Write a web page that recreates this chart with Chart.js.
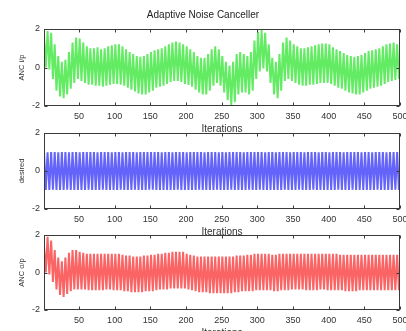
<!DOCTYPE html>
<html>
<head>
<meta charset="utf-8">
<script src="https://cdn.jsdelivr.net/npm/chart.js@4/dist/chart.umd.min.js"></script>
<style>
html,body{margin:0;padding:0;background:#fff;overflow:hidden;width:406px;height:331px;}
canvas{position:absolute;left:0;}
</style>
</head>
<body>
<canvas id="c1" width="406" height="135" style="top:0px"></canvas>
<canvas id="c2" width="406" height="118" style="top:120px"></canvas>
<canvas id="c3" width="406" height="117" style="top:222px"></canvas>
<script>
// ---- data (extrema of each oscillation) ----
const chartTitle = "Adaptive Noise Canceller";
const xTitle = "Iterations";
const xTickValues = [50,100,150,200,250,300,350,400,450,500];
const yTickValues = [-2,0,2];
const yTitles = ["ANC i/p","desired","ANC o/p"];

// sample positions (iteration index) of successive peaks / troughs
const iterations = Array.from({length:200}, (_, k) => 1 + 2.5 * k);

const ancInput = [
 1.7,0.0, 1.9,-0.1, 1.8,-0.6, 1.2,-1.2, 0.6,-1.5, 0.3,-1.6, 0.4,-1.4, 0.8,-1.1, 1.3,-0.8, 1.55,-0.6,
 1.5,-0.7, 1.3,-0.8, 1.1,-0.9, 1.0,-0.9, 1.0,-0.95, 1.05,-0.95, 0.95,-1.0, 1.0,-0.95, 1.1,-0.9, 1.15,-0.85,
 1.2,-0.85, 1.2,-0.9, 1.1,-0.95, 0.95,-1.05, 0.8,-1.15, 0.7,-1.25, 0.6,-1.35, 0.55,-1.4, 0.6,-1.4, 0.7,-1.3,
 0.8,-1.2, 0.9,-1.05, 0.95,-1.0, 1.0,-0.95, 1.1,-0.85, 1.2,-0.75, 1.3,-0.7, 1.35,-0.7, 1.3,-0.75, 1.2,-0.85,
 1.1,-0.9, 0.95,-1.0, 0.8,-1.15, 0.6,-1.3, 0.5,-1.4, 0.5,-1.4, 0.7,-1.2, 0.95,-0.95, 1.1,-0.8, 0.95,-0.95,
 0.6,-1.3, 0.3,-1.7, 0.1,-1.95, 0.3,-1.8, 0.7,-1.4, 0.8,-1.3, 0.7,-1.3, 0.6,-1.4, 0.8,-1.2, 1.4,-0.6,
 1.85,-0.2, 1.95,-0.05, 1.8,-0.2, 1.2,-0.8, 0.5,-1.4, 0.3,-1.6, 0.7,-1.2, 1.3,-0.7, 1.55,-0.6, 1.4,-0.7,
 1.2,-0.8, 1.1,-0.9, 1.0,-0.95, 1.0,-0.95, 1.05,-0.9, 1.1,-0.9, 1.15,-0.85, 1.2,-0.8, 1.25,-0.8, 1.25,-0.8,
 1.2,-0.85, 1.05,-0.95, 0.95,-1.05, 0.85,-1.1, 0.75,-1.2, 0.65,-1.3, 0.6,-1.35, 0.55,-1.4, 0.6,-1.4, 0.65,-1.3,
 0.75,-1.2, 0.85,-1.1, 0.9,-1.05, 0.95,-1.0, 1.0,-0.95, 1.1,-0.85, 1.2,-0.75, 1.25,-0.7, 1.3,-0.65, 1.2,-0.6
];

const desired = [
 1,-1,0.99,-1,1,-0.99,1,-1,0.99,-1,1,-1,1,-0.99,0.99,-1,1,-1,1,-1,
 0.99,-1,1,-1,1,-0.99,1,-1,1,-1,0.99,-1,1,-0.99,1,-1,1,-1,0.99,-1,
 1,-1,1,-0.99,0.99,-1,1,-1,1,-1,1,-0.99,0.99,-1,1,-1,1,-1,1,-0.99,
 1,-0.99,1,-1,1,-1,0.99,-1,1,-1,1,-1,0.99,-1,1,-0.99,1,-1,1,-1,
 0.99,-1,1,-1,1,-1,1,-0.99,1,-1,0.99,-1,1,-1,1,-1,1,-0.99,0.99,-1,
 1,-1,0.99,-1,1,-0.99,1,-1,1,-1,1,-1,0.99,-1,1,-0.99,1,-1,1,-1,
 1,-0.99,1,-1,0.99,-1,1,-1,1,-1,0.99,-1,1,-1,1,-0.99,1,-1,0.99,-1,
 1,-1,1,-0.99,1,-1,0.99,-1,1,-1,1,-0.99,1,-1,0.99,-1,1,-1,1,-1,
 0.99,-1,1,-1,1,-0.99,1,-1,0.99,-1,1,-1,1,-0.99,1,-1,1,-1,0.99,-1,
 1,-1,1,-1,0.99,-1,1,-0.99,1,-1,1,-1,0.99,-1,1,-1,1,-0.99,1,-1
];

const ancOutput = [
 1.4,0.0, 1.9,-0.1, 1.7,-0.5, 1.2,-0.9, 0.8,-1.2, 0.6,-1.3, 0.8,-1.15, 1.05,-1.0, 1.2,-0.9, 1.2,-0.9,
 1.1,-0.9, 1.05,-0.9, 1.0,-0.95, 1.0,-0.95, 1.0,-0.95, 1.0,-0.95, 1.0,-0.95, 1.0,-0.9, 1.0,-0.9, 1.0,-0.95,
 1.0,-0.95, 1.0,-0.95, 0.95,-1.0, 0.9,-1.0, 0.9,-1.05, 0.85,-1.05, 0.85,-1.05, 0.85,-1.05, 0.9,-1.0, 0.9,-1.0,
 0.95,-1.0, 0.95,-0.95, 1.0,-0.9, 1.0,-0.9, 1.05,-0.9, 1.05,-0.85, 1.1,-0.85, 1.1,-0.85, 1.1,-0.85, 1.1,-0.85,
 1.0,-0.9, 0.95,-0.95, 0.9,-1.0, 0.85,-1.05, 0.85,-1.05, 0.85,-1.05, 0.85,-1.1, 0.85,-1.1, 0.85,-1.1, 0.85,-1.1,
 0.85,-1.1, 0.85,-1.1, 0.85,-1.1, 0.85,-1.05, 0.9,-1.05, 0.9,-1.0, 0.9,-1.0, 0.95,-1.0, 0.95,-1.0, 1.0,-0.95,
 1.0,-0.95, 1.0,-0.95, 1.0,-0.95, 1.0,-0.95, 0.95,-1.0, 0.95,-1.0, 1.0,-0.95, 1.0,-0.95, 1.0,-0.95, 1.0,-0.9,
 1.0,-0.9, 1.0,-0.9, 1.0,-0.9, 1.0,-0.95, 1.0,-0.95, 1.0,-0.95, 1.0,-0.95, 1.0,-0.9, 1.0,-0.9, 1.0,-0.95,
 1.0,-0.95, 1.0,-0.95, 1.0,-0.95, 0.95,-0.95, 0.95,-1.0, 0.95,-1.0, 0.95,-1.0, 0.95,-1.0, 0.95,-0.95, 0.95,-0.95,
 0.95,-0.95, 0.95,-0.95, 0.95,-0.95, 0.95,-0.95, 0.95,-0.95, 0.95,-0.95, 0.95,-0.95, 0.95,-0.95, 0.95,-0.95, 0.95,-0.95
];

// ---- drawing ----
const FONT = "'Liberation Sans', Arial, sans-serif";
const TXT = '#333';

const framePlugin = {
  id: 'frame',
  afterDatasetsDraw(chart) {
    const {ctx, chartArea: a, scales: {x, y}} = chart;
    ctx.save();
    ctx.strokeStyle = '#3a3a3a';
    ctx.lineWidth = 1;
    const L = Math.round(a.left) + 0.5, R = Math.round(a.right) - 0.5;
    const T = Math.round(a.top) + 0.5, B = Math.round(a.bottom) - 0.5;
    ctx.strokeRect(L, T, R - L, B - T);
    ctx.beginPath();
    x.ticks.forEach(t => {
      const px = Math.round(x.getPixelForValue(t.value)) + 0.5;
      ctx.moveTo(px, T); ctx.lineTo(px, T + 3);
      ctx.moveTo(px, B); ctx.lineTo(px, B - 3);
    });
    y.ticks.forEach(t => {
      const py = Math.round(y.getPixelForValue(t.value)) + 0.5;
      ctx.moveTo(L, py); ctx.lineTo(L + 3, py);
      ctx.moveTo(R, py); ctx.lineTo(R - 3, py);
    });
    ctx.stroke();
    ctx.restore();
  }
};

function makeChart(id, values, color, yTitle, withTitle) {
  const data = values.map((v, k) => ({x: iterations[k], y: v}));
  return new Chart(document.getElementById(id), {
    type: 'line',
    data: { datasets: [{ data, borderColor: color, borderWidth: 2, pointRadius: 0, tension: 0, fill: false, borderJoinStyle: 'bevel' }] },
    options: {
      responsive: false,
      animation: false,
      events: [],
      layout: { padding: { top: withTitle ? 0 : 13, left: 0, right: 0, bottom: 0 } },
      plugins: {
        legend: { display: false },
        tooltip: { enabled: false },
        title: {
          display: withTitle,
          text: chartTitle,
          color: '#222',
          font: { family: FONT, size: 10, weight: 'normal' },
          padding: { top: 9, bottom: 8 }
        }
      },
      scales: {
        x: {
          type: 'linear',
          min: 1, max: 500,
          grid: { display: false, drawTicks: false },
          border: { display: false },
          ticks: { color: TXT, font: { family: FONT, size: 9 }, padding: 5, maxRotation: 0, autoSkip: false },
          afterBuildTicks: s => { s.ticks = xTickValues.map(v => ({value: v})); },
          afterFit: s => { s.height = 29; s.paddingRight = 6; s.paddingLeft = 0; },
          title: { display: true, text: xTitle, color: TXT, font: { family: FONT, size: 10 }, padding: { top: 0, bottom: 0 } }
        },
        y: {
          min: -2, max: 2,
          grid: { display: false, drawTicks: false },
          border: { display: false },
          ticks: { color: TXT, font: { family: FONT, size: 9 }, padding: 4 },
          afterBuildTicks: s => { s.ticks = yTickValues.map(v => ({value: v})); },
          afterFit: s => { s.width = 44; },
          title: { display: true, text: yTitle, color: TXT, font: { family: FONT, size: 7.5 }, padding: { top: 17, bottom: 0 } }
        }
      }
    },
    plugins: [framePlugin]
  });
}

makeChart('c1', ancInput, 'rgb(100,235,100)', yTitles[0], true);
makeChart('c2', desired, 'rgb(100,100,250)', yTitles[1], false);
makeChart('c3', ancOutput, 'rgb(250,100,100)', yTitles[2], false);
</script>
</body>
</html>
